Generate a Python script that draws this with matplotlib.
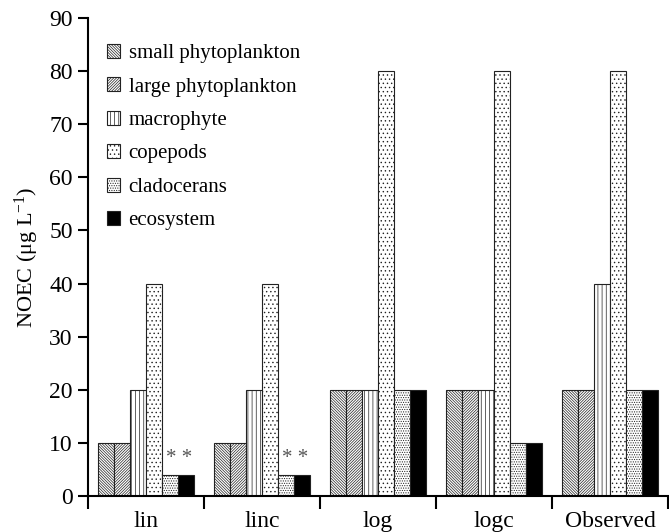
import matplotlib
matplotlib.use("Agg")
import matplotlib.pyplot as plt
import numpy as np

plt.rcParams['font.family'] = ['Liberation Serif', 'DejaVu Serif']
plt.rcParams['mathtext.fontset'] = 'custom'
plt.rcParams['mathtext.rm'] = 'Liberation Serif'
plt.rcParams['mathtext.it'] = 'Liberation Serif:italic'
plt.rcParams['axes.unicode_minus'] = False
plt.rcParams['hatch.linewidth'] = 0.5

groups = ["lin", "linc", "log", "logc", "Observed"]
series = ["small phytoplankton", "large phytoplankton", "macrophyte",
          "copepods", "cladocerans", "ecosystem"]
small_phyto = [10, 10, 20, 20, 20]
large_phyto = [10, 10, 20, 20, 20]
macrophyte = [20, 20, 20, 20, 40]
copepods = [40, 40, 80, 80, 80]
cladocerans = [4, 4, 20, 10, 20]
ecosystem = [4, 4, 20, 10, 20]
values = [small_phyto, large_phyto, macrophyte, copepods, cladocerans, ecosystem]
hatches = ['\\' * 12, '/' * 12, '|' * 4, '.' * 4, '.' * 7, None]
faces = ['white'] * 5 + ['black']
annot_groups = ["lin", "linc"]

fig = plt.figure(figsize=(6.69, 5.32), dpi=100)
ax = fig.add_axes([0.1315, 0.0677, 0.867, 0.8985])

x = np.arange(len(groups))
w = 0.138
for i, (name, vals) in enumerate(zip(series, values)):
    ax.bar(x + (i - 2.5) * w, vals, width=w, facecolor=faces[i],
           edgecolor='#222222', hatch=hatches[i], linewidth=0.8, label=name)

for g in annot_groups:
    gi = groups.index(g)
    ax.text(gi + 2.05 * w, ecosystem[gi] + 1.3, "* *", ha='center', va='bottom',
            fontsize=15, color='#555555')

ax.set_xlim(-0.5, len(groups) - 0.5)
ax.set_ylim(0, 90)
ax.set_yticks(np.arange(0, 91, 10))
ax.set_xticks(x)
ax.set_xticklabels(groups, fontsize=17)
ax.set_xticks(np.arange(-0.5, len(groups), 1.0), minor=True)
ax.tick_params(axis='x', which='major', length=0, pad=11)
ax.tick_params(axis='x', which='minor', length=9, width=1.5, direction='out')
ax.tick_params(axis='y', length=7, width=1.5, direction='out', labelsize=17, pad=4)
for s in ['top', 'right']:
    ax.spines[s].set_visible(False)
for s in ['left', 'bottom']:
    ax.spines[s].set_linewidth(1.5)

ax.set_ylabel("NOEC (\u03bcg L$^{\\mathrm{-1}}$)", fontsize=16, labelpad=6)

leg = ax.legend(loc='upper left', bbox_to_anchor=(0.0, 0.985), frameon=False,
                fontsize=15, handlelength=0.65, handleheight=0.65,
                handletextpad=0.4, labelspacing=0.68)

fig.savefig("out.png", dpi=100)
